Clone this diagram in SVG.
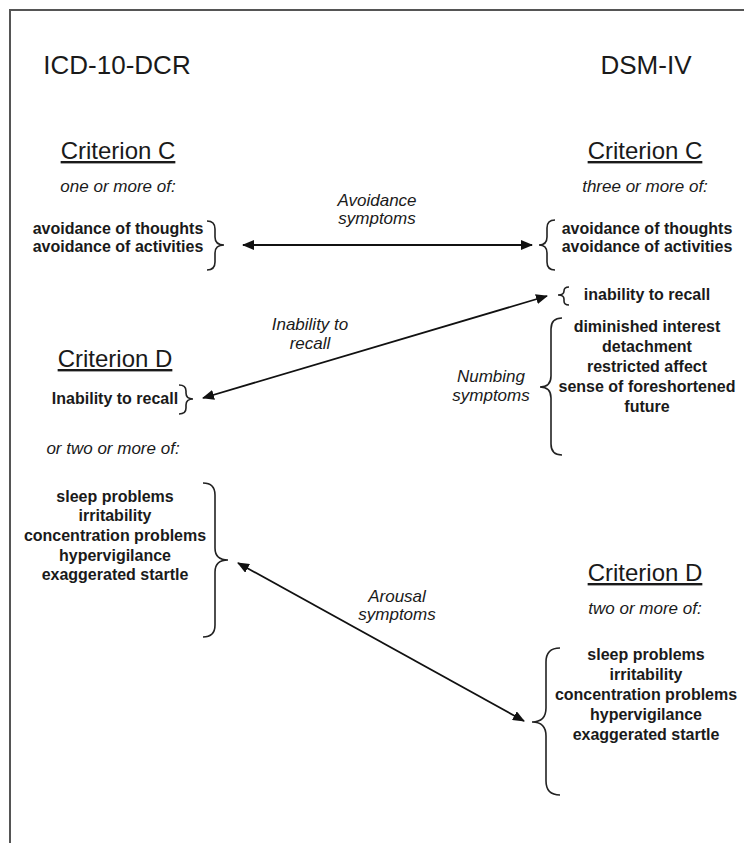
<svg xmlns="http://www.w3.org/2000/svg" width="744" height="843" viewBox="0 0 744 843">
<style>
text{font-family:"Liberation Sans",Arial,sans-serif;fill:#1a1a1a;text-anchor:middle}
.hdr{font-size:26px}
.crit{font-size:24px;text-decoration:underline}
.it{font-size:17px;font-style:italic}
.b{font-size:16px;font-weight:bold}
.brace{fill:none;stroke:#222;stroke-width:1.6}
.arrow{fill:none;stroke:#111;stroke-width:1.8;marker-start:url(#ah);marker-end:url(#ah)}
</style>
<defs>
<marker id="ah" viewBox="0 0 12 10" refX="11" refY="5" markerWidth="12" markerHeight="10" markerUnits="userSpaceOnUse" orient="auto-start-reverse">
<path d="M0,0 L12,5 L0,10 Z" fill="#111"/>
</marker>
</defs>
<rect width="744" height="843" fill="#fff"/>
<path d="M10,843 L10,10 L744,10" fill="none" stroke="#555" stroke-width="2"/>

<g id="icd-header"><text class="hdr" x="117" y="74">ICD-10-DCR</text></g>
<g id="dsm-header"><text class="hdr" x="646" y="74">DSM-IV</text></g>

<g id="icd-criterion-c">
<text class="crit" x="118" y="159">Criterion C</text>
<text class="it" x="118" y="192">one or more of:</text>
<text class="b" x="118" y="234">avoidance of thoughts</text>
<text class="b" x="118" y="252">avoidance of activities</text>
<path class="brace" d="M207,221 Q215,221 215,229 L215,237 Q215,245 224,245 Q215,245 215,253 L215,262 Q215,270 207,270"/>
</g>

<g id="dsm-criterion-c">
<text class="crit" x="645" y="159">Criterion C</text>
<text class="it" x="645" y="192">three or more of:</text>
<text class="b" x="647" y="234">avoidance of thoughts</text>
<text class="b" x="647" y="252">avoidance of activities</text>
<path class="brace" d="M555,220 Q547,220 547,228 L547,237 Q547,245 539,245 Q547,245 547,253 L547,262 Q547,270 555,270"/>
</g>

<g id="dsm-inability">
<text class="b" x="647" y="300">inability to recall</text>
<path class="brace" d="M569,287 Q564,287 564,291 Q564,295 558,295 Q564,295 564,299 L564,301 Q564,305 569,305"/>
</g>

<g id="dsm-numbing">
<text class="b" x="647" y="332">diminished interest</text>
<text class="b" x="647" y="352">detachment</text>
<text class="b" x="647" y="372">restricted affect</text>
<text class="b" x="647" y="392">sense of foreshortened</text>
<text class="b" x="647" y="412">future</text>
<path class="brace" d="M562,318 Q551,318 551,329 L551,376 Q551,387 540,387 Q551,387 551,398 L551,444 Q551,455 562,455"/>
<text class="it" x="491" y="382">Numbing</text>
<text class="it" x="491" y="401">symptoms</text>
</g>

<g id="icd-criterion-d">
<text class="crit" x="115" y="367">Criterion D</text>
<text class="b" x="115" y="404">Inability to recall</text>
<path class="brace" d="M179,385 Q186,385 186,391 L186,393 Q186,399 193,399 Q186,399 186,405 L186,408 Q186,414 179,414"/>
<text class="it" x="113" y="454">or two or more of:</text>
</g>

<g id="icd-arousal">
<text class="b" x="115" y="502">sleep problems</text>
<text class="b" x="115" y="521">irritability</text>
<text class="b" x="115" y="541">concentration problems</text>
<text class="b" x="115" y="561">hypervigilance</text>
<text class="b" x="115" y="580">exaggerated startle</text>
<path class="brace" d="M203,483 Q215,483 215,495 L215,548 Q215,560 228,560 Q215,560 215,572 L215,625 Q215,637 203,637"/>
</g>

<g id="dsm-criterion-d">
<text class="crit" x="645" y="581">Criterion D</text>
<text class="it" x="645" y="614">two or more of:</text>
<text class="b" x="646" y="660">sleep problems</text>
<text class="b" x="646" y="680">irritability</text>
<text class="b" x="646" y="700">concentration problems</text>
<text class="b" x="646" y="720">hypervigilance</text>
<text class="b" x="646" y="740">exaggerated startle</text>
<path class="brace" d="M560,648 Q546,648 546,662 L546,708 Q546,722 532,722 Q546,722 546,736 L546,781 Q546,795 560,795"/>
</g>

<g id="connectors">
<path class="arrow" d="M243,245 L532,245"/>
<path class="arrow" d="M203,398 L547,296"/>
<path class="arrow" d="M238,563 L524,721"/>
<text class="it" x="377" y="206">Avoidance</text>
<text class="it" x="377" y="224">symptoms</text>
<text class="it" x="310" y="330">Inability to</text>
<text class="it" x="310" y="349">recall</text>
<text class="it" x="397" y="602">Arousal</text>
<text class="it" x="397" y="620">symptoms</text>
</g>
</svg>
